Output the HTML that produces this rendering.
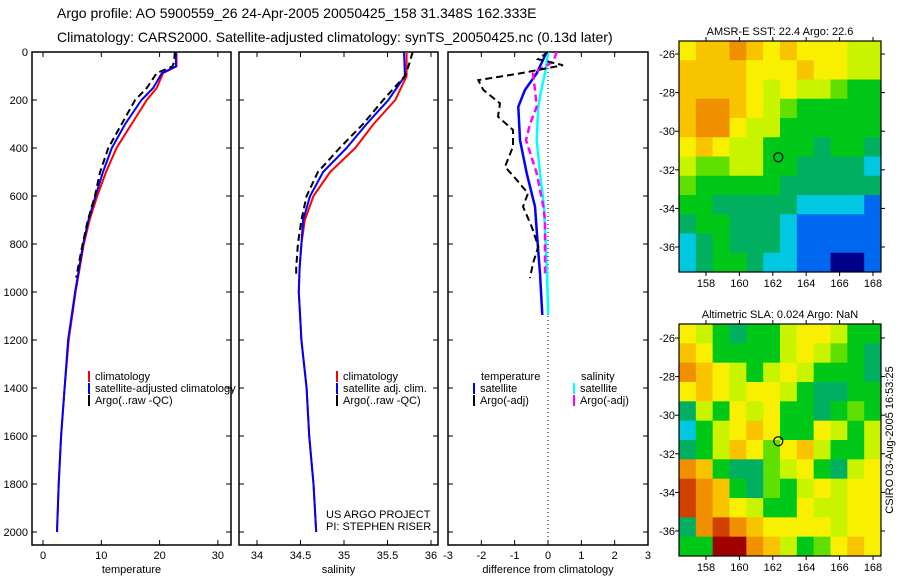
<!DOCTYPE html>
<html><head><meta charset="utf-8"><style>
body{margin:0;background:#fff;}
svg text{font-family:"Liberation Sans",sans-serif;fill:#000;}
</style></head><body>
<svg id="chart" width="900" height="580" xmlns="http://www.w3.org/2000/svg">
<text x="57" y="18" font-size="14">Argo profile: AO 5900559_26 24-Apr-2005 20050425_158 31.348S 162.333E</text>
<text x="57" y="42" font-size="14">Climatology: CARS2000. Satellite-adjusted climatology: synTS_20050425.nc (0.13d later)</text>
<g id="g"></g>
<text transform="translate(893,440) rotate(-90)" font-size="11" text-anchor="middle">CSIRO 03-Aug-2005 16:53:25</text>
</svg>
<script>
// ---- data ----
const tDepth=[0,60,88,150,200,300,400,500,600,700,800,1000,1200,1400,1600,1800,2000];
const tClim=[22.9,22.9,20.6,19.5,17.8,15.2,12.6,10.8,9.3,8.0,7.0,5.6,4.4,3.7,3.1,2.7,2.4];
const tSat=[22.8,22.8,20.4,18.9,16.9,14.1,11.8,10.3,9.0,7.8,6.9,5.5,4.3,3.7,3.1,2.7,2.4];
const tArgoDepth=[0,40,60,88,150,200,300,400,500,600,700,800,940];
const tArgo=[22.6,22.5,22.2,19.5,17.8,15.8,13.5,11.2,9.8,8.9,7.7,6.8,5.7];
const sDepth=[0,100,200,300,400,500,600,700,800,900,1000,1200,1400,1600,1800,2000];
const sClim=[35.72,35.72,35.59,35.34,35.13,34.84,34.65,34.55,34.51,34.49,34.48,34.51,34.57,34.60,34.65,34.68];
const sSat=[35.69,35.70,35.51,35.26,35.03,34.76,34.61,34.53,34.51,34.49,34.48,34.51,34.57,34.60,34.65,34.68];
const sArgoDepth=[0,60,100,200,300,400,500,600,700,800,900,940];
const sArgo=[35.79,35.74,35.70,35.45,35.22,34.95,34.70,34.57,34.51,34.47,34.45,34.45];
const dDepth=[0,89,158,228,367,505,644,833,922,1096];
const dTempSat=[-0.04,-0.34,-0.69,-0.89,-0.84,-0.64,-0.39,-0.29,-0.24,-0.17];
const dSalSat=[0.01,-0.09,-0.2,-0.29,-0.34,-0.24,-0.12,-0.06,-0.03,0.01];
const dArgoTDepth=[0,30,55,89,117,158,214,269,325,394,478,533,589,644,728,811,880,942];
const dArgoT=[0,-0.3,0.45,-0.84,-2.09,-1.94,-1.44,-1.5,-1.05,-1.05,-1.29,-0.94,-0.6,-0.75,-0.49,-0.29,-0.45,-0.54];
const dArgoSDepth=[0,40,89,158,228,300,367,440,505,575,644,700,800,937];
const dArgoS=[0.26,0.16,-0.45,-0.39,-0.34,-0.54,-0.66,-0.49,-0.34,-0.24,-0.14,-0.09,-0.09,-0.09];
const depthTicks=[0,200,400,600,800,1000,1200,1400,1600,1800,2000];
const tTicks=[0,10,20,30];
const sTicks=[34,34.5,35,35.5,36];
const dTicks=[-3,-2,-1,0,1,2,3];
const sstGrid=["hiijihihhhgg","iiiihhhihhgg","iiiihghggfee","ijjihgfeeeee","ijjhggeeeeee","hihggeeedeed","gffggeeddddc","feeeeeddddddc","eedddddccccb","deedddcbbbbb","cdedddcbbbbb","cdeedccbbaab"];
const slaGrid=["hgedeeghhgee","iheeeeghgfed","jihgeghgeeed","hihghhgeddee","dgehgheedefe","ceghiheehgegg","degihfhigeeg","jieddfghedgh","kjiedfeghghh","kjihgeehgghh","djkjihhhhghh","eelljigefhih"];
const lonTicks=[158,160,162,164,166,168];
const latTicks=[-26,-28,-30,-32,-34,-36];
const floatLon=162.33, floatLat=-31.35;

const NS="http://www.w3.org/2000/svg";
const G=document.getElementById('g');
function mk(tag,attrs,parent){const e=document.createElementNS(NS,tag);for(const k in attrs)e.setAttribute(k,attrs[k]);(parent||G).appendChild(e);return e;}
function txt(x,y,s,size,anchor,parent){const e=mk('text',{x:x,y:y,'font-size':size||11,'text-anchor':anchor||'start'},parent);e.textContent=s;return e;}
const yD=d=>52+d*0.24;
const panels=[
 {x0:32,x1:231,fx:v=>43+v*5.83,ticks:tTicks,label:'temperature',name:'temperature-panel'},
 {x0:239,x1:438,fx:v=>257+(v-34)*87,ticks:sTicks,label:'salinity',name:'salinity-panel'},
 {x0:448,x1:648,fx:v=>548+v*33.33,ticks:dTicks,label:'difference from climatology',name:'difference-panel'}];
panels.forEach((p,i)=>{
  const g=mk('g',{});
  
  
  const r=mk('rect',{x:p.x0,y:52,width:p.x1-p.x0,height:493,fill:'none',stroke:'#000','stroke-width':1.5},g);
  
  
  depthTicks.forEach(d=>{
    mk('line',{x1:p.x0,x2:p.x0+5,y1:yD(d),y2:yD(d),stroke:'#000'},g);
    mk('line',{x1:p.x1-5,x2:p.x1,y1:yD(d),y2:yD(d),stroke:'#000'},g);
    if(i==0){const t=txt(28,yD(d)+4,String(d),11,'end',g);
      
      }
  });
  p.ticks.forEach(v=>{
    const x=p.fx(v);
    mk('line',{x1:x,x2:x,y1:545,y2:540,stroke:'#000'},g);
    mk('line',{x1:x,x2:x,y1:52,y2:57,stroke:'#000'},g);
    const t=txt(x,559,String(v),11,'middle',g);
    
    
  });
  const xl=txt((p.x0+p.x1)/2,573,p.label,11,'middle',g);
  
  
});
function line(xs,ds,fx,color,dash,name,w){
  const pts=xs.map((v,k)=>fx(v).toFixed(1)+','+yD(ds[k]).toFixed(1)).join(' ');
  const e=mk('polyline',{points:pts,fill:'none',stroke:color,'stroke-width':w||2,'stroke-dasharray':dash||'none'});
  
  
}
const P=panels;
line(tClim,tDepth,P[0].fx,'#f00',null,'temp-climatology-line');
line(tSat,tDepth,P[0].fx,'#00f',null,'temp-satellite-line');
line(tArgo,tArgoDepth,P[0].fx,'#000','7,4','temp-argo-line');
line(sClim,sDepth,P[1].fx,'#f00',null,'sal-climatology-line');
line(sSat,sDepth,P[1].fx,'#00f',null,'sal-satellite-line');
line(sArgo,sArgoDepth,P[1].fx,'#000','7,4','sal-argo-line');
mk('line',{x1:548,x2:548,y1:52,y2:545,stroke:'#000','stroke-dasharray':'1,3'});
line(dTempSat,dDepth,P[2].fx,'#00f',null,'diff-temp-satellite-line',2.5);
line(dSalSat,dDepth,P[2].fx,'#0ff',null,'diff-sal-satellite-line',2.5);
line(dArgoS,dArgoSDepth,P[2].fx,'#f0f','7,4','diff-sal-argo-line',2.5);
line(dArgoT,dArgoTDepth,P[2].fx,'#000','7,4','diff-temp-argo-line',2);
function leg(x,y,color,label){
  if(color){const m=mk('rect',{x:x,y:y-9,width:2,height:11,fill:color});
    
    }
  const t=txt(x+7,y,label,11);
  
  
}
leg(88,380,'#f00','climatology');leg(88,392,'#00f','satellite-adjusted climatology');leg(88,404,'#000','Argo(..raw -QC)');
leg(336,380,'#f00','climatology');leg(336,392,'#00f','satellite adj. clim.');leg(336,404,'#000','Argo(..raw -QC)');
leg(474,380,null,'temperature');leg(473,392,'#00f','satellite');leg(473,404,'#000','Argo(-adj)');
leg(574,380,null,'salinity');leg(573,392,'#0ff','satellite');leg(573,404,'#f0f','Argo(-adj)');
const c1=txt(326,518,'US ARGO PROJECT',11);
const c2=txt(326,530,'PI: STEPHEN RISER',11);

const pal={a:'#00008b',b:'#0068f0',c:'#00c8e0',d:'#00b060',e:'#00c818',f:'#60e000',g:'#c8f400',h:'#f8f000',i:'#f8c400',j:'#f09000',k:'#d04000',l:'#a00000'};
function map(y0,y1,latTop,grid,title,name){
  const g=mk('g',{});
  
  
  const x0=679,x1=881;
  const lx=v=>706+(v-158)*16.7;
  const ly=v=>latTop+(v-(-26))*(-19.3);
  const rows=grid.length,cw=(x1-x0)/12,ch=(y1-y0)/rows;
  grid.forEach((row,r)=>{[...row].slice(0,12).forEach((c,k)=>{
    mk('rect',{x:x0+k*cw,y:y0+r*ch,width:cw+0.5,height:ch+0.5,fill:pal[c]||'#00c818'},g);
  });});
  mk('rect',{x:x0,y:y0,width:x1-x0,height:y1-y0,fill:'none',stroke:'#000','stroke-width':1.2},g);
  lonTicks.forEach(v=>{const x=lx(v);mk('line',{x1:x,x2:x,y1:y1,y2:y1+4,stroke:'#000'},g);mk('line',{x1:x,x2:x,y1:y0,y2:y0-4,stroke:'#000'},g);
    const t=txt(x,y1+15,String(v),11,'middle',g);});
  latTicks.forEach(v=>{const y=ly(v);mk('line',{x1:x0-4,x2:x0,y1:y,y2:y,stroke:'#000'},g);mk('line',{x1:x1,x2:x1+4,y1:y,y2:y,stroke:'#000'},g);
    const t=txt(675,y+4,String(v),11,'end',g);});
  const c=mk('circle',{cx:lx(floatLon),cy:ly(floatLat),r:4.5,fill:'none',stroke:'#000','stroke-width':1.2},g);
  
  const t=txt(780,y0-6,title,11,'middle',g);
}
map(41,272,54,sstGrid,'AMSR-E SST: 22.4 Argo: 22.6','sst-map');
map(324,556,338,slaGrid,'Altimetric SLA: 0.024 Argo: NaN','sla-map');
</script>
</body></html>
